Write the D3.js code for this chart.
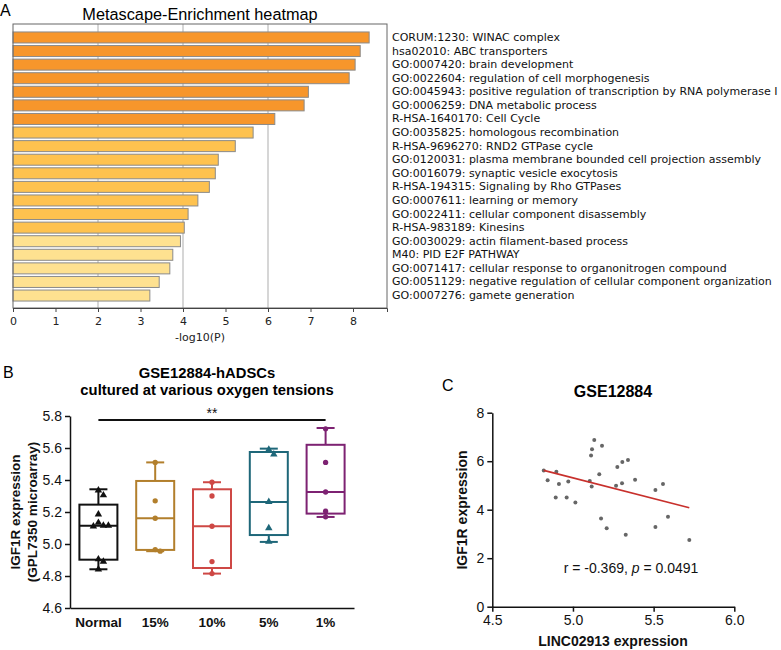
<!DOCTYPE html>
<html>
<head>
<meta charset="utf-8">
<script src="https://cdn.jsdelivr.net/npm/d3@7"></script>
<style>
  html, body { margin: 0; padding: 0; background: #fff; }
  svg { display: block; }
</style>
</head>
<body>
<svg id="fig" width="781" height="650"></svg>
<script>
// ---------------- Panel A data ----------------
const termLabels = [
  "CORUM:1230: WINAC complex",
  "hsa02010: ABC transporters",
  "GO:0007420: brain development",
  "GO:0022604: regulation of cell morphogenesis",
  "GO:0045943: positive regulation of transcription by RNA polymerase I",
  "GO:0006259: DNA metabolic process",
  "R-HSA-1640170: Cell Cycle",
  "GO:0035825: homologous recombination",
  "R-HSA-9696270: RND2 GTPase cycle",
  "GO:0120031: plasma membrane bounded cell projection assembly",
  "GO:0016079: synaptic vesicle exocytosis",
  "R-HSA-194315: Signaling by Rho GTPases",
  "GO:0007611: learning or memory",
  "GO:0022411: cellular component disassembly",
  "R-HSA-983189: Kinesins",
  "GO:0030029: actin filament-based process",
  "M40: PID E2F PATHWAY",
  "GO:0071417: cellular response to organonitrogen compound",
  "GO:0051129: negative regulation of cellular component organization",
  "GO:0007276: gamete generation"
];
const termLogP = [8.38, 8.17, 8.05, 7.91, 6.95, 6.85, 6.16, 5.65, 5.23, 4.83,
                  4.76, 4.62, 4.35, 4.12, 4.03, 3.94, 3.76, 3.69, 3.44, 3.22];
// colour class per term (0 = strongest, 2 = weakest)
const termClass = [0,0,0,0,0,0,0,1,1,1,1,1,1,1,1,2,2,2,2,2];
const logPTicks = [0,1,2,3,4,5,6,7,8];
const logPGrid = [2,4,6];

// ---------------- Panel B data ----------------
const groups = ["Normal", "15%", "10%", "5%", "1%"];
const boxMin    = [4.842, 4.955, 4.815, 5.013, 5.169];
const boxQ1     = [4.902, 4.963, 4.850, 5.056, 5.190];
const boxMedian = [5.114, 5.161, 5.111, 5.263, 5.325];
const boxQ3     = [5.246, 5.394, 5.342, 5.575, 5.620];
const boxMax    = [5.342, 5.510, 5.386, 5.596, 5.725];
const groupPoints = [
  [5.335, 5.305, 5.186, 5.133, 5.115, 5.110, 5.115, 4.905, 4.890, 4.842],
  [5.510, 5.270, 5.161, 4.965, 4.955],
  [5.386, 5.300, 5.111, 4.890, 4.815],
  [5.590, 5.560, 5.263, 5.100, 5.015],
  [5.720, 5.510, 5.325, 5.205, 5.170]
];
const groupShape = ["triangle", "circle", "circle", "triangle", "circle"];
const bTicks = [4.6, 4.8, 5.0, 5.2, 5.4, 5.6, 5.8];

// ---------------- Panel C data ----------------
const lincExpr = [4.819, 4.843, 4.897, 4.913, 4.971, 4.893, 4.961, 5.015, 5.132, 5.118,
                  5.112, 5.180, 5.104, 5.116, 5.163, 5.174, 5.267, 5.275, 5.304, 5.306,
                  5.341, 5.385, 5.511, 5.558, 5.589, 5.209, 5.327, 5.511, 5.721];
const igfExpr  = [5.62, 5.21, 5.57, 5.06, 5.16, 4.50, 4.50, 4.30, 6.87, 6.49,
                  6.24, 6.64, 5.18, 4.96, 5.46, 3.64, 4.99, 5.76, 5.09, 5.97,
                  6.05, 5.24, 4.81, 5.06, 3.71, 3.23, 2.97, 3.29, 2.75];
const cXTicks = [4.5, 5.0, 5.5, 6.0];
const cYTicks = [0, 2, 4, 6, 8];

const svg = d3.select("#fig");
const ARIAL = "Liberation Sans, Arial, Helvetica, sans-serif";
const DEJA = "DejaVu Sans, sans-serif";

// ============ PANEL A ============
(function () {
  const g = svg.append("g");
  const left = 13, right = 387, top = 24, bottom = 308;
  const x = d3.scaleLinear().domain([0, 8.8]).range([left, right]);
  const y = d3.scaleBand().domain(d3.range(termLabels.length))
    .range([30.6, 302.4]).paddingInner(0.19).paddingOuter(0.1);
  const fills = ["#F7962B", "#FEC24F", "#FEE190"];

  g.append("text").attr("x", 0).attr("y", 16).text("A")
    .attr("font-family", ARIAL).attr("font-size", 16);
  g.append("text").attr("x", 200).attr("y", 20).attr("text-anchor", "middle")
    .attr("font-family", ARIAL).attr("font-size", 16.3).text("Metascape-Enrichment heatmap");

  // grid
  g.selectAll("line.grid").data(logPGrid).join("line")
    .attr("x1", d => x(d)).attr("x2", d => x(d))
    .attr("y1", top).attr("y2", bottom)
    .attr("stroke", "#c8c8c8").attr("stroke-width", 1.5);

  // bars
  g.selectAll("rect.bar").data(termLogP).join("rect")
    .attr("x", x(0)).attr("y", (d, i) => y(i))
    .attr("width", d => x(d) - x(0)).attr("height", y.bandwidth())
    .attr("fill", (d, i) => fills[termClass[i]])
    .attr("stroke", "#8a8a8a").attr("stroke-width", 1);

  // frame
  g.append("rect").attr("x", left).attr("y", top)
    .attr("width", right - left).attr("height", bottom - top)
    .attr("fill", "none").attr("stroke", "#666").attr("stroke-width", 1);

  // axis
  const ax = g.append("g").attr("transform", `translate(0,${bottom})`)
    .call(d3.axisBottom(x).tickValues(logPTicks).tickFormat(d3.format("d")).tickSize(4));
  ax.select(".domain").attr("stroke", "#444");
  ax.selectAll(".tick line").attr("stroke", "#444");
  ax.selectAll("text").attr("font-family", DEJA).attr("font-size", 11).attr("fill", "#222").attr("dy", "0.9em");

  g.append("text").attr("x", 200).attr("y", 341).attr("text-anchor", "middle")
    .attr("font-family", DEJA).attr("font-size", 11).attr("fill", "#222").text("-log10(P)");

  // labels
  g.selectAll("text.lbl").data(termLabels).join("text")
    .attr("x", 392).attr("y", (d, i) => y(i) + y.bandwidth() / 2)
    .attr("dominant-baseline", "central")
    .attr("font-family", DEJA).attr("font-size", 11).attr("fill", "#111")
    .text(d => d);
})();

// ============ PANEL B ============
(function () {
  const g = svg.append("g");
  const colors = ["#111111", "#B27F2C", "#CE4845", "#1E6779", "#7D2272"];
  const y = d3.scaleLinear().domain([4.6, 5.8]).range([608, 416]);
  const x = d3.scaleBand().domain(groups).range([70, 354]).padding(0);
  const bw = 38, cap = 18;

  g.append("text").attr("x", 3).attr("y", 378).text("B")
    .attr("font-family", ARIAL).attr("font-size", 16);
  g.append("text").attr("x", 207).attr("y", 378).attr("text-anchor", "middle")
    .attr("font-family", ARIAL).attr("font-weight", "bold").attr("font-size", 14.8)
    .text("GSE12884-hADSCs");
  g.append("text").attr("x", 207).attr("y", 395).attr("text-anchor", "middle")
    .attr("font-family", ARIAL).attr("font-weight", "bold").attr("font-size", 14.8)
    .text("cultured at various oxygen tensions");

  // y axis
  const ay = g.append("g").attr("transform", "translate(70,0)")
    .call(d3.axisLeft(y).tickValues(bTicks).tickFormat(d3.format(".1f")).tickSize(5).tickSizeOuter(0));
  ay.selectAll("path, line").attr("stroke", "#111").attr("stroke-width", 1.5);
  ay.selectAll("text").attr("font-family", ARIAL).attr("font-size", 14).attr("fill", "#111");

  // x axis
  const axb = g.append("g").attr("transform", "translate(0,608)")
    .call(d3.axisBottom(x).tickSize(0).tickSizeOuter(0));
  axb.selectAll("path").attr("stroke", "#111").attr("stroke-width", 1.5);
  axb.selectAll("text").attr("font-family", ARIAL).attr("font-size", 13.5)
    .attr("font-weight", "bold").attr("fill", "#111").attr("dy", "1.2em");

  // y label
  const yl = g.append("text").attr("transform", "translate(20,512) rotate(-90)")
    .attr("text-anchor", "middle").attr("font-family", ARIAL)
    .attr("font-weight", "bold").attr("font-size", 13.5).attr("fill", "#111");
  yl.append("tspan").attr("x", 0).attr("dy", 0).text("IGF1R expression");
  yl.append("tspan").attr("x", 0).attr("dy", 16.5).text("(GPL7350 microarray)");

  // boxes
  groups.forEach((grp, i) => {
    const cx = x(grp) + x.bandwidth() / 2;
    const c = colors[i];
    const gg = g.append("g").attr("stroke", c).attr("stroke-width", 2).attr("fill", "none");
    // whiskers
    gg.append("line").attr("x1", cx).attr("x2", cx).attr("y1", y(boxQ3[i])).attr("y2", y(boxMax[i]));
    gg.append("line").attr("x1", cx).attr("x2", cx).attr("y1", y(boxQ1[i])).attr("y2", y(boxMin[i]));
    gg.append("line").attr("x1", cx - cap / 2).attr("x2", cx + cap / 2).attr("y1", y(boxMax[i])).attr("y2", y(boxMax[i]));
    gg.append("line").attr("x1", cx - cap / 2).attr("x2", cx + cap / 2).attr("y1", y(boxMin[i])).attr("y2", y(boxMin[i]));
    gg.append("rect").attr("x", cx - bw / 2).attr("y", y(boxQ3[i]))
      .attr("width", bw).attr("height", y(boxQ1[i]) - y(boxQ3[i])).attr("fill", "#fff");
    gg.append("line").attr("x1", cx - bw / 2).attr("x2", cx + bw / 2)
      .attr("y1", y(boxMedian[i])).attr("y2", y(boxMedian[i]));

    // points with simple deterministic swarm
    const placed = [];
    groupPoints[i].forEach(v => {
      const py = y(v);
      let off = 0, k = 0;
      const collides = o => placed.some(p => Math.hypot(p.x - o, p.y - py) < 5);
      while (collides(off)) { k++; off = (k % 2 ? 1 : -1) * Math.ceil(k / 2) * 5; }
      placed.push({ x: off, y: py });
    });
    const sym = d3.symbol().type(groupShape[i] === "triangle" ? d3.symbolTriangle : d3.symbolCircle)
      .size(groupShape[i] === "triangle" ? 24 : 22);
    g.selectAll(null).data(placed).join("path")
      .attr("transform", p => `translate(${cx + p.x},${p.y})`)
      .attr("d", sym).attr("fill", c);
  });

  // significance
  const c0 = x(groups[0]) + x.bandwidth() / 2, c4 = x(groups[4]) + x.bandwidth() / 2;
  g.append("line").attr("x1", c0).attr("x2", c4).attr("y1", 420).attr("y2", 420)
    .attr("stroke", "#111").attr("stroke-width", 1.8);
  g.append("text").attr("x", (c0 + c4) / 2).attr("y", 418).attr("text-anchor", "middle")
    .attr("font-family", ARIAL).attr("font-size", 14).attr("fill", "#111").text("**");
})();

// ============ PANEL C ============
(function () {
  const g = svg.append("g");
  const x = d3.scaleLinear().domain([4.5, 6.0]).range([492.3, 734.3]);
  const y = d3.scaleLinear().domain([0, 8]).range([606.7, 412.7]);

  g.append("text").attr("x", 442).attr("y", 391).text("C")
    .attr("font-family", ARIAL).attr("font-size", 16);
  g.append("text").attr("x", 613).attr("y", 397).attr("text-anchor", "middle")
    .attr("font-family", ARIAL).attr("font-weight", "bold").attr("font-size", 16).text("GSE12884");

  const ay = g.append("g").attr("transform", `translate(${x(4.5)},0)`)
    .call(d3.axisLeft(y).tickValues(cYTicks).tickFormat(d3.format("d")).tickSize(5).tickSizeOuter(0));
  ay.selectAll("path, line").attr("stroke", "#111").attr("stroke-width", 1.5);
  ay.selectAll("text").attr("font-family", ARIAL).attr("font-size", 14).attr("fill", "#111");

  const ax = g.append("g").attr("transform", `translate(0,${y(0)})`)
    .call(d3.axisBottom(x).tickValues(cXTicks).tickFormat(d3.format(".1f")).tickSize(5).tickSizeOuter(0));
  ax.selectAll("path, line").attr("stroke", "#111").attr("stroke-width", 1.5);
  ax.selectAll("text").attr("font-family", ARIAL).attr("font-size", 14).attr("fill", "#111");

  g.append("text").attr("transform", "translate(467,510) rotate(-90)").attr("text-anchor", "middle")
    .attr("font-family", ARIAL).attr("font-weight", "bold").attr("font-size", 14).attr("fill", "#111")
    .text("IGF1R expression");
  g.append("text").attr("x", 613).attr("y", 646).attr("text-anchor", "middle")
    .attr("font-family", ARIAL).attr("font-weight", "bold").attr("font-size", 14).attr("fill", "#111")
    .text("LINC02913 expression");

  // points
  g.selectAll("circle.pt").data(lincExpr).join("circle")
    .attr("cx", d => x(d)).attr("cy", (d, i) => y(igfExpr[i])).attr("r", 2)
    .attr("fill", "#666");

  // regression line (least squares)
  const mx = d3.mean(lincExpr), my = d3.mean(igfExpr);
  let sxy = 0, sxx = 0;
  lincExpr.forEach((v, i) => { sxy += (v - mx) * (igfExpr[i] - my); sxx += (v - mx) ** 2; });
  const slope = sxy / sxx, icpt = my - slope * mx;
  const [x0, x1] = d3.extent(lincExpr);
  g.append("line").attr("x1", x(x0)).attr("x2", x(x1))
    .attr("y1", y(icpt + slope * x0)).attr("y2", y(icpt + slope * x1))
    .attr("stroke", "#C8302C").attr("stroke-width", 1.6);

  const t = g.append("text").attr("x", 631).attr("y", 573).attr("text-anchor", "middle")
    .attr("font-family", ARIAL).attr("font-size", 14).attr("fill", "#111");
  t.append("tspan").text("r = -0.369, ");
  t.append("tspan").attr("font-style", "italic").text("p");
  t.append("tspan").text(" = 0.0491");
})();
</script>
</body>
</html>
